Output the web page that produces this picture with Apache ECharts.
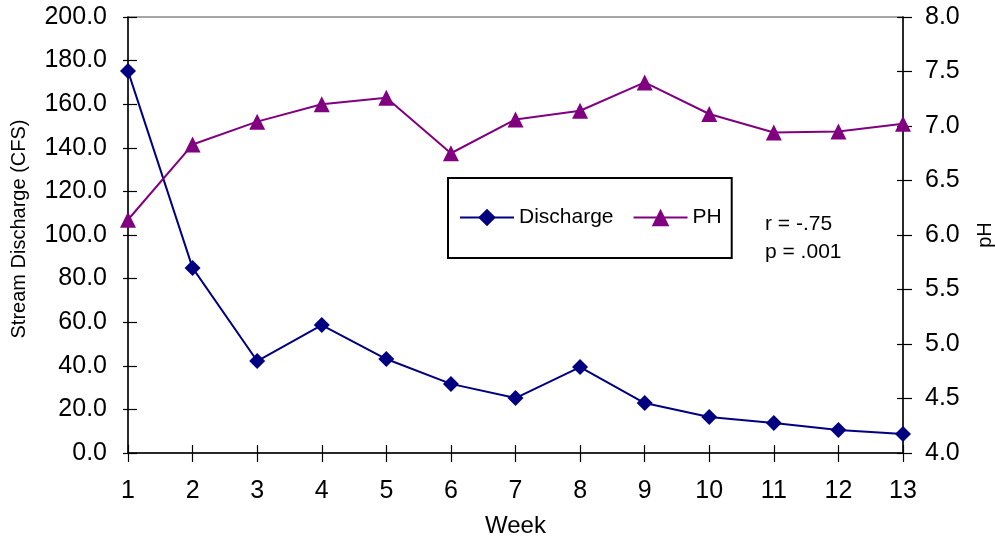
<!DOCTYPE html>
<html><head><meta charset="utf-8">
<script src="https://cdn.jsdelivr.net/npm/echarts@6/dist/echarts.min.js"></script>
<style>html,body{margin:0;padding:0;background:#fff;overflow:hidden}#c{width:995px;height:539px}</style>
</head><body><div id="c"></div>
<script>
const weeks = ['1','2','3','4','5','6','7','8','9','10','11','12','13'];
const discharge = [175.2, 84.9, 42.2, 58.7, 43.1, 31.7, 25.2, 39.4, 22.9, 16.5, 13.8, 10.6, 8.7];
const ph = [6.14, 6.83, 7.04, 7.20, 7.26, 6.75, 7.06, 7.14, 7.40, 7.11, 6.94, 6.95, 7.02];
const statsText = ['r = -.75', 'p = .001'];

const font = 'Liberation Sans, Arial, sans-serif';
const chart = echarts.init(document.getElementById('c'));
const tick = (inside, len) => ({show: true, inside: inside, length: len, lineStyle: {color: '#000', width: 1.2}});
const axisLine = {show: true, lineStyle: {color: '#000', width: 1.5}};
chart.setOption({
  animation: false,
  grid: {left: 128, right: 92, top: 17, bottom: 86, show: true, borderColor: '#888', borderWidth: 1.5,
         containLabel: false, outerBoundsMode: 'none'},
  legend: {
    left: 448, top: 178, padding: [29, 10, 30, 11],
    borderColor: '#000', borderWidth: 2,
    itemWidth: 54, itemHeight: 22, itemGap: 19,
    textStyle: {fontFamily: font, fontSize: 21, color: '#000'},
    data: ['Discharge', 'PH']
  },
  xAxis: [
    {type: 'category', data: weeks, boundaryGap: false, position: 'bottom',
     name: 'Week', nameLocation: 'middle', nameGap: 61,
     nameTextStyle: {fontFamily: font, fontSize: 24, color: '#000'},
     axisLine: axisLine, axisTick: tick(false, 9),
     axisLabel: {fontFamily: font, fontSize: 25, color: '#000', margin: 26},
     splitLine: {show: false}},
    {type: 'category', data: weeks, boundaryGap: false, position: 'bottom', offset: 0,
     axisLine: {show: false}, axisTick: tick(true, 8), axisLabel: {show: false}, splitLine: {show: false}}
  ],
  yAxis: [
    {type: 'value', min: 0, max: 200, interval: 20, position: 'left',
     name: 'Stream Discharge (CFS)', nameLocation: 'middle', nameGap: 99, nameRotate: 90,
     nameTextStyle: {fontFamily: font, fontSize: 20, color: '#000', padding: [0, 0, 0, 12]},
     axisLine: axisLine, axisTick: tick(false, 5),
     axisLabel: {fontFamily: font, fontSize: 25, color: '#000', margin: 21, formatter: v => v.toFixed(1)},
     splitLine: {show: false}},
    {type: 'value', min: 4, max: 8, interval: 0.5, position: 'right',
     name: 'pH', nameLocation: 'middle', nameGap: 72, nameRotate: 90,
     nameTextStyle: {fontFamily: font, fontSize: 20, color: '#000'},
     axisLine: axisLine, axisTick: tick(false, 9),
     axisLabel: {fontFamily: font, fontSize: 25, color: '#000', margin: 22, formatter: v => v.toFixed(1)},
     splitLine: {show: false}},
    {type: 'value', min: 0, max: 200, interval: 20, position: 'left', offset: 0,
     axisLine: {show: false}, axisTick: tick(true, 9), axisLabel: {show: false}, splitLine: {show: false}},
    {type: 'value', min: 4, max: 8, interval: 0.5, position: 'right', offset: 0,
     axisLine: {show: false}, axisTick: tick(true, 6), axisLabel: {show: false}, splitLine: {show: false}}
  ],
  series: [
    {name: 'Discharge', type: 'line', data: discharge, yAxisIndex: 0,
     symbol: 'diamond', symbolSize: 16, showAllSymbol: true,
     lineStyle: {color: '#000080', width: 2}, itemStyle: {color: '#000080'}},
    {name: 'PH', type: 'line', data: ph, yAxisIndex: 1,
     symbol: 'triangle', symbolSize: 16, showAllSymbol: true,
     lineStyle: {color: '#800080', width: 2}, itemStyle: {color: '#800080'}}
  ],
  graphic: [
    {type: 'text', left: 765, top: 210,
     style: {text: statsText.join('\n'), font: '21px ' + font, fill: '#000', lineHeight: 28}}
  ]
});
</script></body></html>
